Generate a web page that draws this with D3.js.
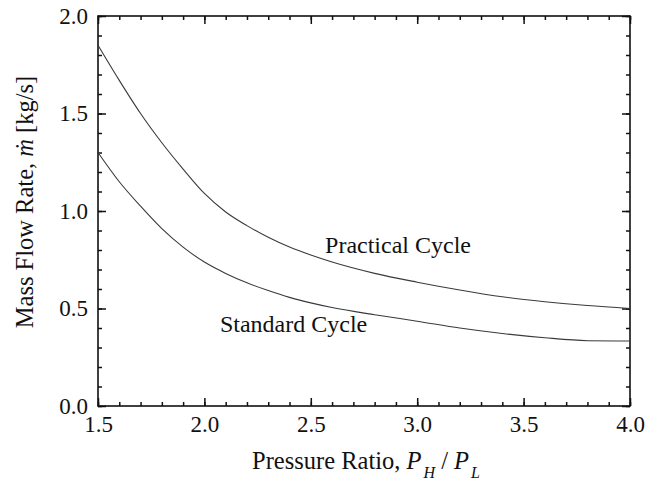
<!DOCTYPE html>
<html>
<head>
<meta charset="utf-8">
<script src="https://cdn.jsdelivr.net/npm/d3@7"></script>
<style>
  html, body { margin: 0; padding: 0; background: #fff; }
  svg { display: block; }
  text { font-family: "Liberation Serif", "Times New Roman", serif; fill: #111; }
</style>
</head>
<body>
<svg id="chart" width="646" height="483"></svg>
<script>
// ---- data ----
const pressureRatio  = [1.5, 1.6, 1.7, 1.8, 1.9, 2.0, 2.1, 2.2, 2.3, 2.4, 2.5, 2.6, 2.8, 3.0, 3.2, 3.4, 3.6, 3.8, 4.0];
const practicalCycle = [1.85, 1.67, 1.50, 1.35, 1.215, 1.09, 0.995, 0.925, 0.865, 0.815, 0.774, 0.738, 0.68, 0.635, 0.595, 0.56, 0.535, 0.515, 0.50];
const standardCycle  = [1.30, 1.15, 1.025, 0.91, 0.815, 0.738, 0.68, 0.632, 0.592, 0.557, 0.529, 0.505, 0.468, 0.435, 0.40, 0.372, 0.35, 0.335, 0.333];
const xTicks = [1.5, 2.0, 2.5, 3.0, 3.5, 4.0];
const yTicks = [0.0, 0.5, 1.0, 1.5, 2.0];
const seriesLabels = ["Practical Cycle", "Standard Cycle"];
const labelAnchors = [[2.567, 0.785], [2.073, 0.379]]; // data-space anchors for the inline labels

// ---- layout ----
const W = 646, H = 483;
const margin = { left: 98, top: 16, right: 16, bottom: 77 };
const iw = W - margin.left - margin.right;
const ih = H - margin.top - margin.bottom;
const FS_TICK = 23, FS_LABEL = 24, FS_TITLE = 24.5;

const svg = d3.select("#chart");
const g = svg.append("g").attr("transform", `translate(${margin.left},${margin.top})`);

const x = d3.scaleLinear().domain([1.5, 4.0]).range([0, iw]);
const y = d3.scaleLinear().domain([0, 2.0]).range([ih, 0]);

const xMinor = d3.range(15, 41).map(d => d / 10);
const yMinor = d3.range(0, 21).map(d => d / 10);

function styleAxis(sel) {
  sel.select(".domain").remove();
  sel.selectAll("line").attr("stroke", "#111").attr("stroke-width", 1.5);
  sel.selectAll("text").style("font-size", FS_TICK + "px").attr("fill", "#111")
     .style("font-family", '"Liberation Serif", "Times New Roman", serif');
}

// minor ticks on all four sides
g.append("g").attr("transform", `translate(0,${ih})`)
  .call(d3.axisBottom(x).tickValues(xMinor).tickSize(-4).tickFormat(""))
  .call(styleAxis);
g.append("g")
  .call(d3.axisTop(x).tickValues(xMinor).tickSize(-4).tickFormat(""))
  .call(styleAxis);
g.append("g")
  .call(d3.axisLeft(y).tickValues(yMinor).tickSize(-4).tickFormat(""))
  .call(styleAxis);
g.append("g").attr("transform", `translate(${iw},0)`)
  .call(d3.axisRight(y).tickValues(yMinor).tickSize(-4).tickFormat(""))
  .call(styleAxis);

// major ticks
g.append("g").attr("transform", `translate(0,${ih})`)
  .call(d3.axisBottom(x).tickValues(xTicks).tickSize(-8).tickPadding(10).tickFormat(d3.format(".1f")))
  .call(styleAxis);
g.append("g")
  .call(d3.axisTop(x).tickValues(xTicks).tickSize(-8).tickFormat(""))
  .call(styleAxis);
g.append("g")
  .call(d3.axisLeft(y).tickValues(yTicks).tickSize(-8).tickPadding(10).tickFormat(d3.format(".1f")))
  .call(styleAxis);
g.append("g").attr("transform", `translate(${iw},0)`)
  .call(d3.axisRight(y).tickValues(yTicks).tickSize(-8).tickFormat(""))
  .call(styleAxis);

// frame
g.append("rect").attr("x", 0).attr("y", 0).attr("width", iw).attr("height", ih)
  .attr("fill", "none").attr("stroke", "#111").attr("stroke-width", 1.6);

// curves
const line = d3.line().x(d => x(d[0])).y(d => y(d[1])).curve(d3.curveMonotoneX);
[practicalCycle, standardCycle].forEach(vals => {
  g.append("path")
    .datum(pressureRatio.map((p, i) => [p, vals[i]]))
    .attr("d", line)
    .attr("fill", "none")
    .attr("stroke", "#3a3a3a")
    .attr("stroke-width", 1.1);
});

// inline labels
seriesLabels.forEach((t, i) => {
  g.append("text")
    .attr("x", x(labelAnchors[i][0]))
    .attr("y", y(labelAnchors[i][1]))
    .style("font-size", FS_LABEL + "px")
    .text(t);
});

// x axis title
const xt = svg.append("text")
  .attr("x", margin.left + iw / 2 + 2)
  .attr("y", 469)
  .attr("text-anchor", "middle")
  .style("font-size", FS_TITLE + "px");
xt.append("tspan").text("Pressure Ratio, ");
xt.append("tspan").style("font-style", "italic").text("P");
xt.append("tspan").style("font-style", "italic").style("font-size", "16px").attr("dy", 9).attr("dx", 2).text("H");
xt.append("tspan").attr("dy", -9).text(" / ");
xt.append("tspan").style("font-style", "italic").text("P");
xt.append("tspan").style("font-style", "italic").style("font-size", "16px").attr("dy", 9).attr("dx", 2).text("L");

// y axis title
const yt = svg.append("text")
  .attr("transform", `translate(33,${202}) rotate(-90)`)
  .attr("text-anchor", "middle")
  .style("font-size", FS_TITLE + "px");
yt.append("tspan").text("Mass Flow Rate, ");
yt.append("tspan").style("font-style", "italic").text("ṁ");
yt.append("tspan").text(" [kg/s]");
</script>
</body>
</html>
